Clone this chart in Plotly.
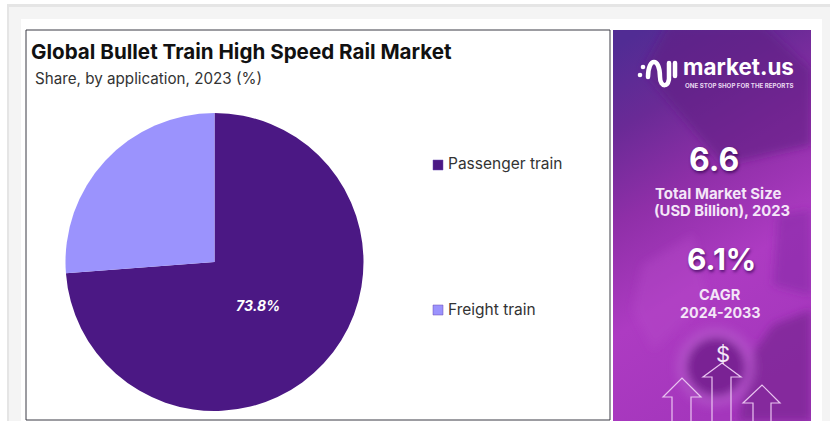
import base64
import plotly.graph_objects as go

W, H = 836, 421

categories = ["Passenger train", "Freight train"]
shares = [73.8, 26.2]
colors = ["#4b1884", "#9b93fd"]
legend_y = [164, 309]

title = "Global Bullet Train High Speed Rail Market"
subtitle = "Share, by application, 2023 (%)"
market_size = "6.6"
market_label = ["Total Market Size", "(USD Billion), 2023"]
cagr = "6.1%"
cagr_label = ["CAGR", "2024-2033"]


def px(x):
    return x / W


def py(y):
    return 1 - y / H


# Sidebar artwork: gradient, soft photo-like shapes, logo mark and rising arrows
panel_svg = """<svg xmlns='http://www.w3.org/2000/svg' width='198' height='391' viewBox='0 0 198 391'>
<defs><linearGradient id='g' x1='0.15' y1='0' x2='0.45' y2='1'>
<stop offset='0' stop-color='#512c94'/><stop offset='0.2' stop-color='#6a2a96'/>
<stop offset='0.42' stop-color='#8f2fa8'/><stop offset='0.68' stop-color='#ad3bc2'/>
<stop offset='1' stop-color='#a436bc'/></linearGradient>
<filter id='b' x='-20%' y='-20%' width='140%' height='140%'><feGaussianBlur stdDeviation='4'/></filter>
<clipPath id='c'><rect width='198' height='391'/></clipPath></defs>
<rect width='198' height='391' fill='url(#g)'/>
<g clip-path='url(#c)'><g filter='url(#b)'>
<polygon points='55,-5 150,-5 198,40 198,115 110,135 30,40' fill='#5f1f84' opacity='0.6'/>
<polygon points='165,185 198,180 198,265 160,255' fill='#8429a4' opacity='0.55'/>
<polygon points='140,323 160,295 198,280 198,391 125,391' fill='#7d2496' opacity='0.8'/>
<polygon points='30,235 80,205 95,270 40,320 20,280' fill='#b44bc8' opacity='0.4'/>
<circle cx='103' cy='337' r='40' fill='#b65ccc' opacity='0.55'/>
<circle cx='103' cy='337' r='29' fill='#7a2494'/>
</g></g>
<g fill='none' stroke='#ffffff' stroke-linecap='round'>
<path d='M35,47 C35,27 47,27 47,47 C47,58 57,58 56,46 L56,33' stroke-width='4.5'/>
<path d='M62,33 L62,46' stroke-width='4.5'/>
</g>
<circle cx='27' cy='45' r='2.3' fill='#ffffff'/><circle cx='30' cy='37' r='2.3' fill='#ffffff'/>
<g fill='none' stroke='#e9c4f0' stroke-width='1.2' stroke-linejoin='miter'>
<path d='M59,391 L59,367 L50,367 L69,348 L88,367 L78,367 L78,391'/>
<path d='M99,391 L99,347 L90,347 L109,333 L128,347 L118,347 L118,391'/>
<path d='M140,391 L140,373 L130,373 L149,355 L167,373 L158,373 L158,391'/>
</g>
</svg>"""
panel_uri = "data:image/svg+xml;base64," + base64.b64encode(panel_svg.encode()).decode()

fig = go.Figure(
    go.Pie(
        labels=categories,
        values=shares,
        sort=False,
        direction="clockwise",
        rotation=0,
        marker=dict(colors=colors, line=dict(width=0)),
        textinfo="none",
        hoverinfo="label+percent",
        showlegend=False,
        domain=dict(x=[px(65.5), px(363.5)], y=[py(411), py(113)]),
    )
)

shapes = [
    # page band and card behind the chart
    dict(type="rect", x0=px(7), x1=px(830), y0=py(421), y1=py(4), fillcolor="#f4f4f4", line_width=0, layer="below"),
    dict(type="rect", x0=px(7), x1=px(830), y0=py(7), y1=py(4), fillcolor="#e5e5e5", line_width=0, layer="below"),
    dict(type="rect", x0=px(7), x1=px(9), y0=py(421), y1=py(4), fillcolor="#e5e5e5", line_width=0, layer="below"),
    dict(type="rect", x0=px(21), x1=px(822), y0=py(421), y1=py(19), fillcolor="#ffffff", line_width=0, layer="below"),
    # chart frame
    dict(type="rect", x0=px(26), x1=px(610), y0=py(420), y1=py(30), fillcolor="#ffffff",
         line=dict(color="#3a3a44", width=1), layer="below"),
]

annotations = []


def add_text(text, x, y, size, color="#ffffff", weight=400, anchor="center", shadow=None, style="normal"):
    font = dict(family="Inter", size=size, color=color, weight=weight, style=style)
    if shadow:
        font["shadow"] = shadow
    annotations.append(dict(
        text=text, x=px(x), y=py(y), xref="paper", yref="paper", showarrow=False,
        xanchor=anchor, yanchor="middle", font=font,
    ))


add_text(title, 29, 52, 20.6, "#111111", 700, "left")
add_text(subtitle, 33, 79, 15.2, "#333333", 400, "left")
add_text(f"{shares[0]:.1f}%", 258, 305, 14, "#ffffff", 700, style="italic")

for name, color, y in zip(categories, colors, legend_y):
    shapes.append(dict(type="rect", x0=px(433), x1=px(443), y0=py(y + 6), y1=py(y - 4),
                       fillcolor=color, line=dict(color="#6a4bb0", width=0.5)))
    add_text(name, 446, y, 15.5, "#333333", 400, "left")

soft_shadow = "1px 2px 3px rgba(50,0,80,0.7)"
add_text("market.us", 681, 67, 22.4, "#ffffff", 700, "left")
add_text("ONE STOP SHOP FOR THE REPORTS", 683, 85, 6.2, "#e8d8f0", 700, "left")
add_text(market_size, 714, 160, 32, "#ffffff", 700, shadow=soft_shadow)
add_text(market_label[0], 717.5, 193, 15, "#f4e6f8", 700)
add_text(market_label[1], 722, 211, 14.8, "#f4e6f8", 700)
add_text(cagr, 721, 259, 30, "#ffffff", 700, shadow=soft_shadow)
add_text(cagr_label[0], 719.5, 295, 14.6, "#f4e6f8", 700)
add_text(cagr_label[1], 720, 312, 14.3, "#f4e6f8", 700)
add_text("$", 723, 354, 22, "#f4e6f8", 400)

fig.update_layout(
    width=W,
    height=H,
    margin=dict(l=0, r=0, t=0, b=0),
    paper_bgcolor="#ffffff",
    shapes=shapes,
    annotations=annotations,
    images=[dict(source=panel_uri, xref="paper", yref="paper", x=px(613), y=py(30),
                 sizex=198 / W, sizey=391 / H, xanchor="left", yanchor="top",
                 sizing="stretch", layer="above")],
)

fig.write_html("out.html", config={"displayModeBar": False})
